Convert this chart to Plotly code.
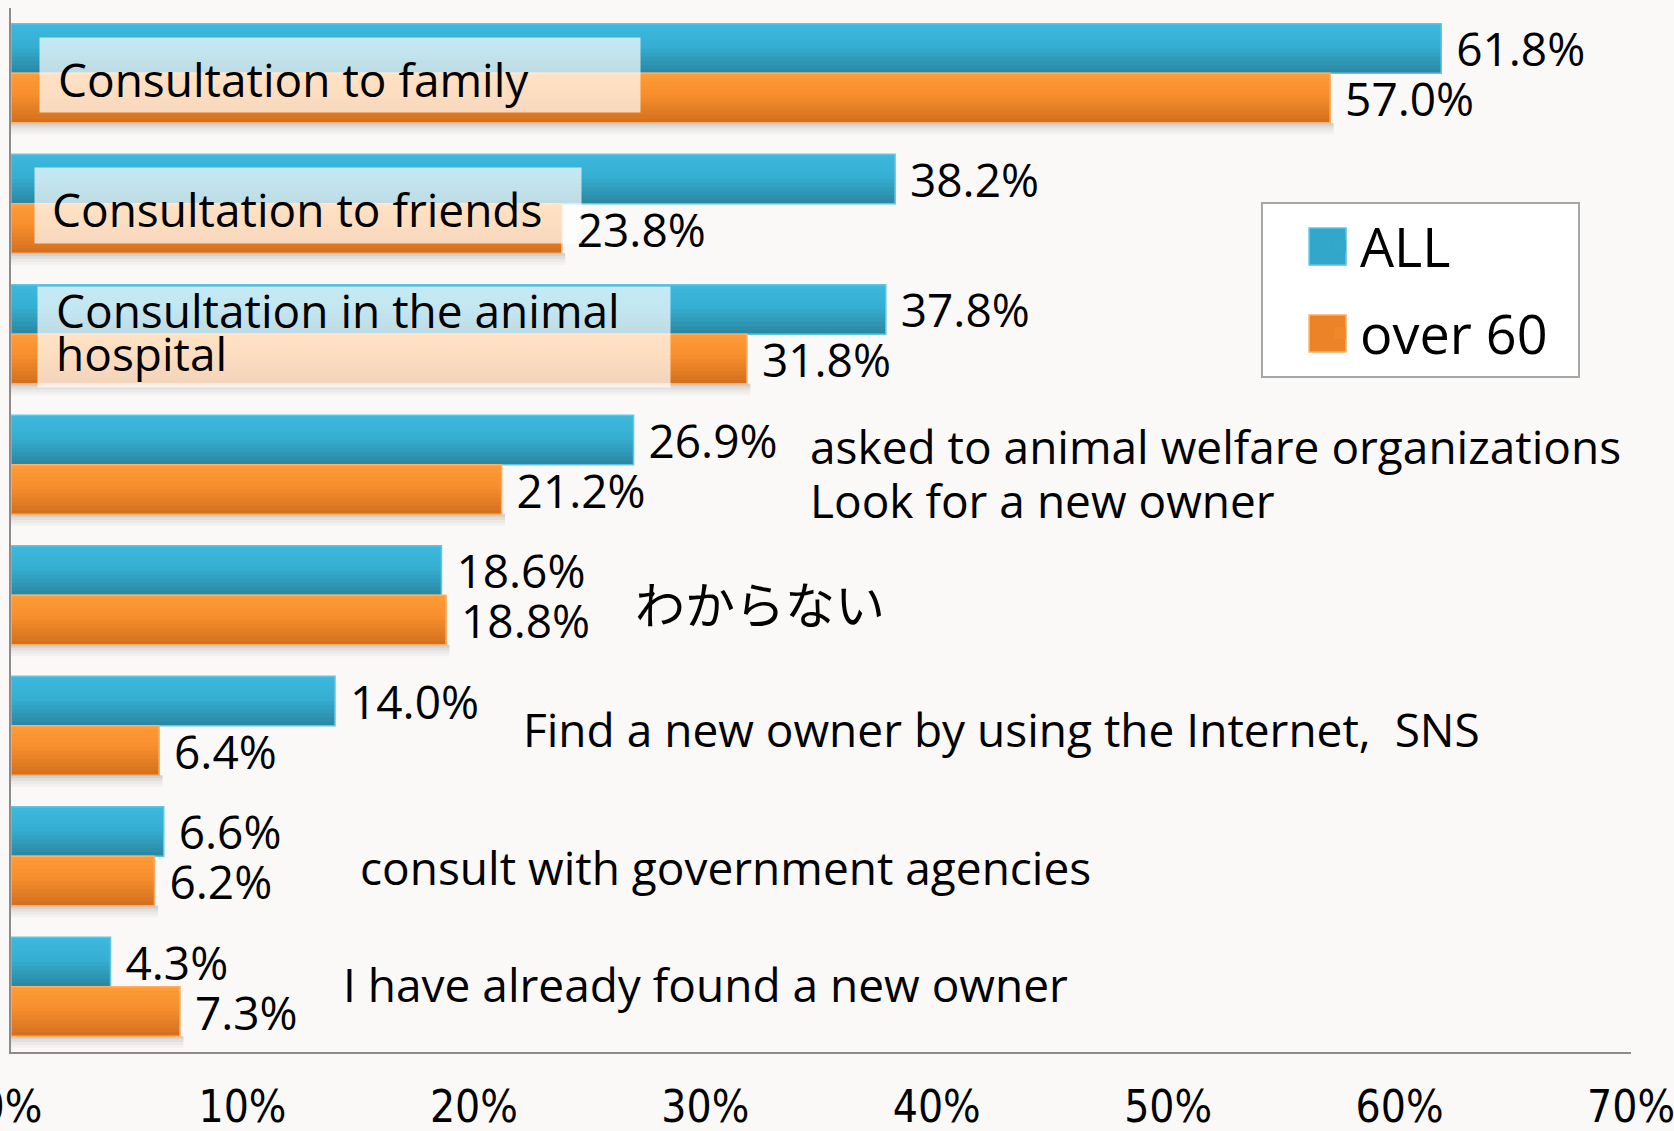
import plotly.graph_objects as go

# ---------------- data ----------------
categories = [
    "Consultation to family",
    "Consultation to friends",
    "Consultation in the animal hospital",
    "asked to animal welfare organizations Look for a new owner",
    "わからない",
    "Find a new owner by using the Internet,  SNS",
    "consult with government agencies",
    "I have already found a new owner",
]
all_values = [61.8, 38.2, 37.8, 26.9, 18.6, 14.0, 6.6, 4.3]
over60_values = [57.0, 23.8, 31.8, 21.2, 18.8, 6.4, 6.2, 7.3]
series_names = ["ALL", "over 60"]
tick_values = [0, 10, 20, 30, 40, 50, 60, 70]
tick_labels = ["0%", "10%", "20%", "30%", "40%", "50%", "60%", "70%"]

# label lines drawn next to the bars (text only)
label_lines = [
    "Consultation to family",
    "Consultation to friends",
    "Consultation in the animal",
    "hospital",
    "asked to animal welfare organizations",
    "Look for a new owner",
    "わからない",
    "Find a new owner by using the Internet,\u00a0 SNS",
    "consult with government agencies",
    "I have already found a new owner",
]

# ---------------- layout / style ----------------
W, H = 1674, 1131
M_L, M_R, M_T, M_B = 11, 43, 8, 79
FONT = "Open Sans, Noto Sans, sans-serif"
BG = "#FAF9F7"
HALF = 0.38          # thickness of one bar in category units
N_SLICES = 12

blue_stops = [(0.0, "#3DB9DD"), (0.45, "#35AFD2"), (1.0, "#2A86A1")]
orange_stops = [(0.0, "#FF9C37"), (0.45, "#F68D2D"), (1.0, "#D26F1D")]


def hex2rgb(h):
    h = h.lstrip("#")
    return tuple(int(h[i:i + 2], 16) for i in (0, 2, 4))


def grad(stops, t):
    for (t0, c0), (t1, c1) in zip(stops[:-1], stops[1:]):
        if t0 <= t <= t1:
            f = (t - t0) / (t1 - t0) if t1 > t0 else 0
            a, b = hex2rgb(c0), hex2rgb(c1)
            return "rgb(%d,%d,%d)" % tuple(round(a[i] + (b[i] - a[i]) * f) for i in range(3))
    return stops[-1][1]


fig = go.Figure()

# soft shadow under each pair of bars
shadow_alphas = [0.16, 0.10, 0.06, 0.03]
for k, a in enumerate(shadow_alphas):
    fig.add_trace(go.Bar(
        y=categories, x=[v + 0.15 for v in over60_values], orientation="h",
        offset=HALF + k * 0.022, width=0.022,
        marker=dict(color="rgba(0,0,0,%.2f)" % a, line=dict(width=0)),
        showlegend=False, hoverinfo="skip",
    ))

series = [
    (series_names[0], all_values, -HALF, blue_stops, "#62C6E3"),
    (series_names[1], over60_values, 0.0, orange_stops, "#FFAE62"),
]

for name, vals, off0, stops, edge in series:
    w = HALF / N_SLICES
    for k in range(N_SLICES):
        t = (k + 0.5) / N_SLICES
        # each slice runs to the bottom of the bar, later slices cover earlier ones -> no seams
        fig.add_trace(go.Bar(
            y=categories, x=vals, orientation="h",
            offset=off0 + k * w, width=HALF - k * w,
            marker=dict(color=grad(stops, t), line=dict(width=0)),
            name=name, legendgroup=name,
            showlegend=(k == N_SLICES // 2),
            hoverinfo="skip",
        ))
    # outline + value labels
    fig.add_trace(go.Bar(
        y=categories, x=vals, orientation="h",
        offset=off0, width=HALF,
        marker=dict(color="rgba(0,0,0,0)", line=dict(color=edge, width=1.5)),
        text=[f"{v:.1f}%" for v in vals],
        texttemplate="\u00a0%{text}",
        textposition="outside", constraintext="none", cliponaxis=False,
        textfont=dict(family=FONT, size=46, color="#000000"),
        name=name, legendgroup=name, showlegend=False,
        hovertemplate=name + ": %{x:.1f}%<extra></extra>",
    ))

annotations = []

# translucent boxes over the first three groups: (category index, left %, width px, height px, yshift)
boxes = [(0, 1.23, 600, 74, -2), (1, 0.99, 546, 75, -2), (2, 1.12, 632, 100, -3)]
for idx, x0, bw, bh, ys in boxes:
    annotations.append(dict(
        x=x0, y=idx, xref="x", yref="y", xanchor="left", yanchor="middle",
        yshift=ys, text="\u00a0", width=bw, height=bh, borderpad=0,
        bgcolor="rgba(255,255,255,0.70)", showarrow=False,
    ))

# text lines: (line index, category index, x %, yshift px, size)
line_pos = [
    (0, 0, 1.93, -6, 46),
    (1, 1, 1.69, -5, 46),
    (2, 2, 1.86, 24, 46),
    (3, 2, 1.86, -19, 46),
    (4, 3, 34.43, 19, 46),
    (5, 3, 34.43, -35, 46),
    (6, 4, 26.88, -7, 50),
    (7, 5, 22.03, -3, 46),
    (8, 6, 14.98, -11, 46),
    (9, 7, 14.25, 3, 46),
]
for li, ci, x, ys, sz in line_pos:
    annotations.append(dict(
        x=x, y=ci, xref="x", yref="y", xanchor="left", yanchor="middle",
        yshift=ys, text=label_lines[li], showarrow=False, align="left",
        font=dict(family=FONT if li != 6 else "Noto Sans CJK JP, " + FONT, size=sz, color="#000000"),
    ))

# legend frame and large swatches (native legend text drawn on top)
shapes = [
    dict(type="rect", xref="paper", yref="paper", x0=0.7722, x1=0.9679, y0=0.6466, y1=0.8132,
         fillcolor="#FFFFFF", line=dict(color="#A6A6A6", width=2), layer="above"),
    dict(type="rect", xref="paper", yref="paper", x0=0.8013, x1=0.8241, y0=0.7538, y1=0.7893,
         fillcolor="#33A7CA", line=dict(color="#5EC4E2", width=1.5), layer="above"),
    dict(type="rect", xref="paper", yref="paper", x0=0.8013, x1=0.8241, y0=0.6705, y1=0.7059,
         fillcolor="#EC8328", line=dict(color="#FFAE62", width=1.5), layer="above"),
]

fig.update_layout(
    width=W, height=H,
    margin=dict(l=M_L, r=M_R, t=M_T, b=M_B, pad=0, autoexpand=False),
    barmode="overlay",
    paper_bgcolor=BG, plot_bgcolor=BG,
    font=dict(family=FONT, color="#000000"),
    showlegend=True,
    legend=dict(
        x=0.808, y=0.812, xanchor="left", yanchor="top",
        bgcolor="rgba(0,0,0,0)", borderwidth=0,
        font=dict(family=FONT, size=54, color="#000000"),
        traceorder="grouped", tracegroupgap=14, itemwidth=30,
    ),
    annotations=annotations,
    shapes=shapes,
    xaxis=dict(
        range=[0, 70], tickvals=tick_values, ticktext=tick_labels,
        showgrid=False, zeroline=False, automargin=False,
        showline=True, linecolor="#8C8C8C", linewidth=2,
        ticks="", ticklabelstandoff=15, ticklabeloverflow="allow",
        tickfont=dict(family="Liberation Sans Narrow, DejaVu Sans Condensed, " + FONT, size=44, color="#000000"),
    ),
    yaxis=dict(
        type="category", autorange="reversed", automargin=False,
        showticklabels=False, showgrid=False, zeroline=False,
        showline=True, linecolor="#8C8C8C", linewidth=2, ticks="",
    ),
)

fig.write_html(
    "out.html",
    config={"displayModeBar": False},
    post_script="document.body.style.margin='0';document.body.style.background='%s';" % BG,
)
